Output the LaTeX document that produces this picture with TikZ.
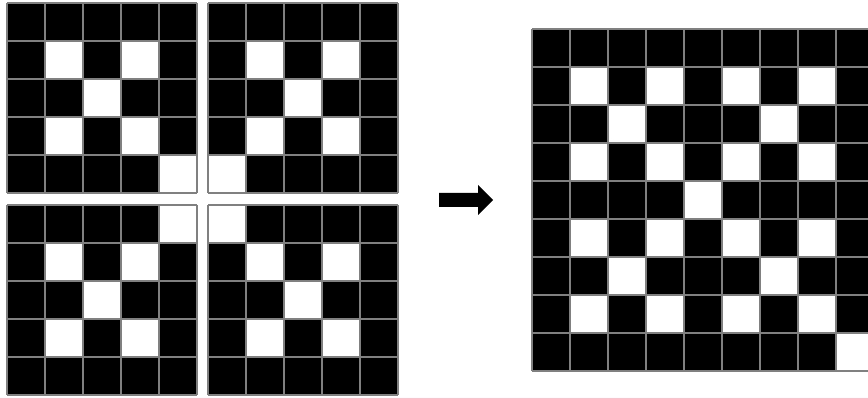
\documentclass[tikz,border=0pt]{standalone}
\usetikzlibrary{calc}

\begin{document}
\begin{tikzpicture}[x=1pt, y=-1pt, cellline/.style={draw=gray, line width=2pt}]
  \useasboundingbox (0,0) rectangle (868,398);
  \clip (0,0) rectangle (868,398);
  % 四个 5x5 小网格的左上角（格宽 38）
  \coordinate (G1) at (7,3);
  \coordinate (G2) at (208,3);
  \coordinate (G3) at (7,205);
  \coordinate (G4) at (208,205);
  \coordinate (B) at (532,29);
  \foreach \g in {G1,G2,G3,G4} {
    \fill[black] (\g) rectangle ++(190,190);
    \foreach \c/\r in {1/1,3/1,2/2,1/3,3/3}
      \fill[white] ($(\g)+(\c*38,\r*38)$) rectangle ++(38,38);
  }
  % 各小网格的角上白格
  \foreach \g/\c/\r in {G1/4/4,G2/0/4,G3/4/0,G4/0/0}
    \fill[white] ($(\g)+(\c*38,\r*38)$) rectangle ++(38,38);
  \foreach \g in {G1,G2,G3,G4}
    \foreach \i in {0,...,5} {
      \draw[cellline] ($(\g)+(\i*38,0)$) -- ++(0,190);
      \draw[cellline] ($(\g)+(0,\i*38)$) -- ++(190,0);
    }
  % 右侧 9x9 大网格
  \fill[black] (B) rectangle ++(342,342);
  \foreach \r in {1,3,5,7}
    \foreach \c in {1,3,5,7}
      \fill[white] ($(B)+(\c*38,\r*38)$) rectangle ++(38,38);
  \foreach \c/\r in {2/2,6/2,4/4,2/6,6/6,8/8}
    \fill[white] ($(B)+(\c*38,\r*38)$) rectangle ++(38,38);
  \foreach \i in {0,...,9} {
    \draw[cellline] ($(B)+(\i*38,0)$) -- ++(0,342);
    \draw[cellline] ($(B)+(0,\i*38)$) -- ++(342,0);
  }
  % 中间的箭头
  \fill[black] (439,193) -- (478,193) -- (478,185) -- (493,200)
    -- (478,215) -- (478,207) -- (439,207) -- cycle;
\end{tikzpicture}
\end{document}
